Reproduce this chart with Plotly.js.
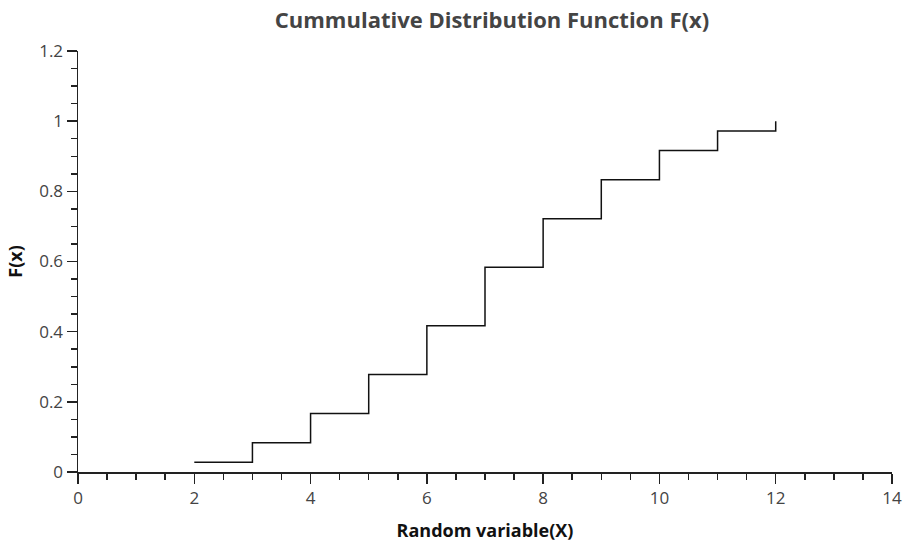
<!DOCTYPE html>
<html>
<head>
<meta charset="utf-8">
<script src="https://cdn.plot.ly/plotly-3.0.1.min.js"></script>
<style>html,body{margin:0;padding:0;background:#fff;}#chart{width:906px;height:543px;}</style>
</head>
<body>
<div id="chart"></div>
<script>
const xValues = [2, 3, 4, 5, 6, 7, 8, 9, 10, 11, 12];
const cdfValues = [0.0278, 0.0833, 0.1667, 0.2778, 0.4167, 0.5833, 0.7222, 0.8333, 0.9167, 0.9722, 1.0];
const xTickVals = [0, 2, 4, 6, 8, 10, 12, 14];
const yTickVals = [0, 0.2, 0.4, 0.6, 0.8, 1, 1.2];

const fontFam = '"Open Sans", "DejaVu Sans", sans-serif';
const trace = {
  x: xValues,
  y: cdfValues,
  type: 'scatter',
  mode: 'lines',
  line: {shape: 'hv', color: '#111', width: 1.5},
  hoverinfo: 'x+y'
};
const axisCommon = {
  showgrid: false,
  zeroline: false,
  showline: true,
  linecolor: '#222',
  linewidth: 1.5,
  ticks: 'outside',
  ticklen: 10,
  tickwidth: 1.5,
  tickcolor: '#222',
  tickfont: {family: fontFam, size: 17, color: '#444'}
};
const layout = {
  width: 906,
  height: 543,
  margin: {l: 78, r: 14, t: 51, b: 71},
  paper_bgcolor: '#fff',
  plot_bgcolor: '#fff',
  showlegend: false,
  title: {text: '<b>Cummulative Distribution Function F(x)</b>', x: 0.543, xanchor: 'center', y: 0.963, yanchor: 'middle',
          font: {family: fontFam, size: 22, color: '#444'}},
  xaxis: Object.assign({}, axisCommon, {
    range: [0, 14], tickvals: xTickVals,
    minor: {dtick: 0.5, ticks: 'outside', ticklen: 6, tickwidth: 1.5, tickcolor: '#222'},
    title: {text: '<b>Random variable(X)</b>', standoff: 16, font: {family: fontFam, size: 18, color: '#111'}}
  }),
  yaxis: Object.assign({}, axisCommon, {
    range: [0, 1.2], tickvals: yTickVals,
    minor: {dtick: 0.05, ticks: 'outside', ticklen: 6, tickwidth: 1.5, tickcolor: '#222'},
    title: {text: '<b>F(x)</b>', standoff: 12, font: {family: fontFam, size: 18, color: '#111'}}
  })
};
Plotly.newPlot('chart', [trace], layout, {displayModeBar: false, staticPlot: true});
</script>
</body>
</html>
